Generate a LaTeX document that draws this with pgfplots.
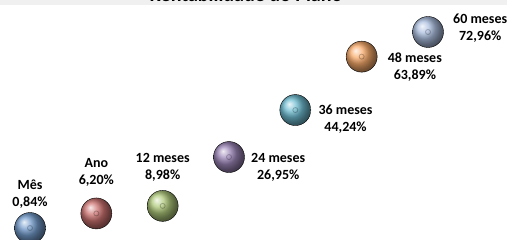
\documentclass[border=0pt]{standalone}
\usepackage{pgfplots}
\pgfplotsset{compat=1.18}
\usepackage{fontspec}
\setmainfont{Carlito}
\definecolor{cMes}{HTML}{4F81BD}
\definecolor{cAno}{HTML}{C0504D}
\definecolor{cDoze}{HTML}{9BBB59}
\definecolor{cVQ}{HTML}{8064A2}
\definecolor{cTS}{HTML}{4BACC6}
\definecolor{cQO}{HTML}{F79646}
\definecolor{cSes}{HTML}{95ADD6}
\newcommand{\pnt}[6]{%
  \addplot[only marks, mark=ball, mark size=15.5pt, ball color=#1!80!white,
    nodes near coords={#3}, point meta=explicit symbolic,
    nodes near coords style={align=center, inner sep=0pt, text=black,
      font=\fontsize{14}{17}\selectfont\bfseries, anchor=#4, xshift=#5, yshift=#6}]
    coordinates {#2 [a]};
  \addplot[only marks, mark=o, mark size=2.5pt, mark options={draw=black, opacity=0.25, line width=0.8pt}]
    coordinates {#2};
}
\begin{document}
\begin{tikzpicture}
\useasboundingbox (0,0) rectangle (507pt,240pt);
\begin{scope}
\clip (0,0) rectangle (507pt,240pt);
\fill[black!6] (0,235pt) rectangle (507pt,240pt);
\node[anchor=base, inner sep=0pt, font=\fontsize{20}{24}\selectfont\bfseries] at (246pt,238pt) {Rentabilidade do Plano};
\end{scope}
\begin{axis}[at={(0,0)}, anchor=south west, scale only axis,
  width=507pt, height=240pt,
  xmin=0.5477, xmax=8.191, ymin=-3.57, ymax=84.73,
  hide axis, clip=false]
\pnt{cMes}{(1,0.84)}{Mês\\0,84\%}{south}{0pt}{19pt}
\pnt{cAno}{(2,6.20)}{Ano\\6,20\%}{south}{0pt}{27pt}
\pnt{cDoze}{(3,8.98)}{12 meses\\8,98\%}{south}{0pt}{24pt}
\pnt{cVQ}{(4,26.95)}{24 meses\\26,95\%}{west}{22pt}{-10pt}
\pnt{cTS}{(5,44.24)}{36 meses\\44,24\%}{west}{23pt}{-9pt}
\pnt{cQO}{(6,63.89)}{48 meses\\63,89\%}{west}{26pt}{-10pt}
\pnt{cSes}{(7,72.96)}{60 meses\\72,96\%}{west}{25pt}{4pt}
\end{axis}
\end{tikzpicture}
\end{document}
